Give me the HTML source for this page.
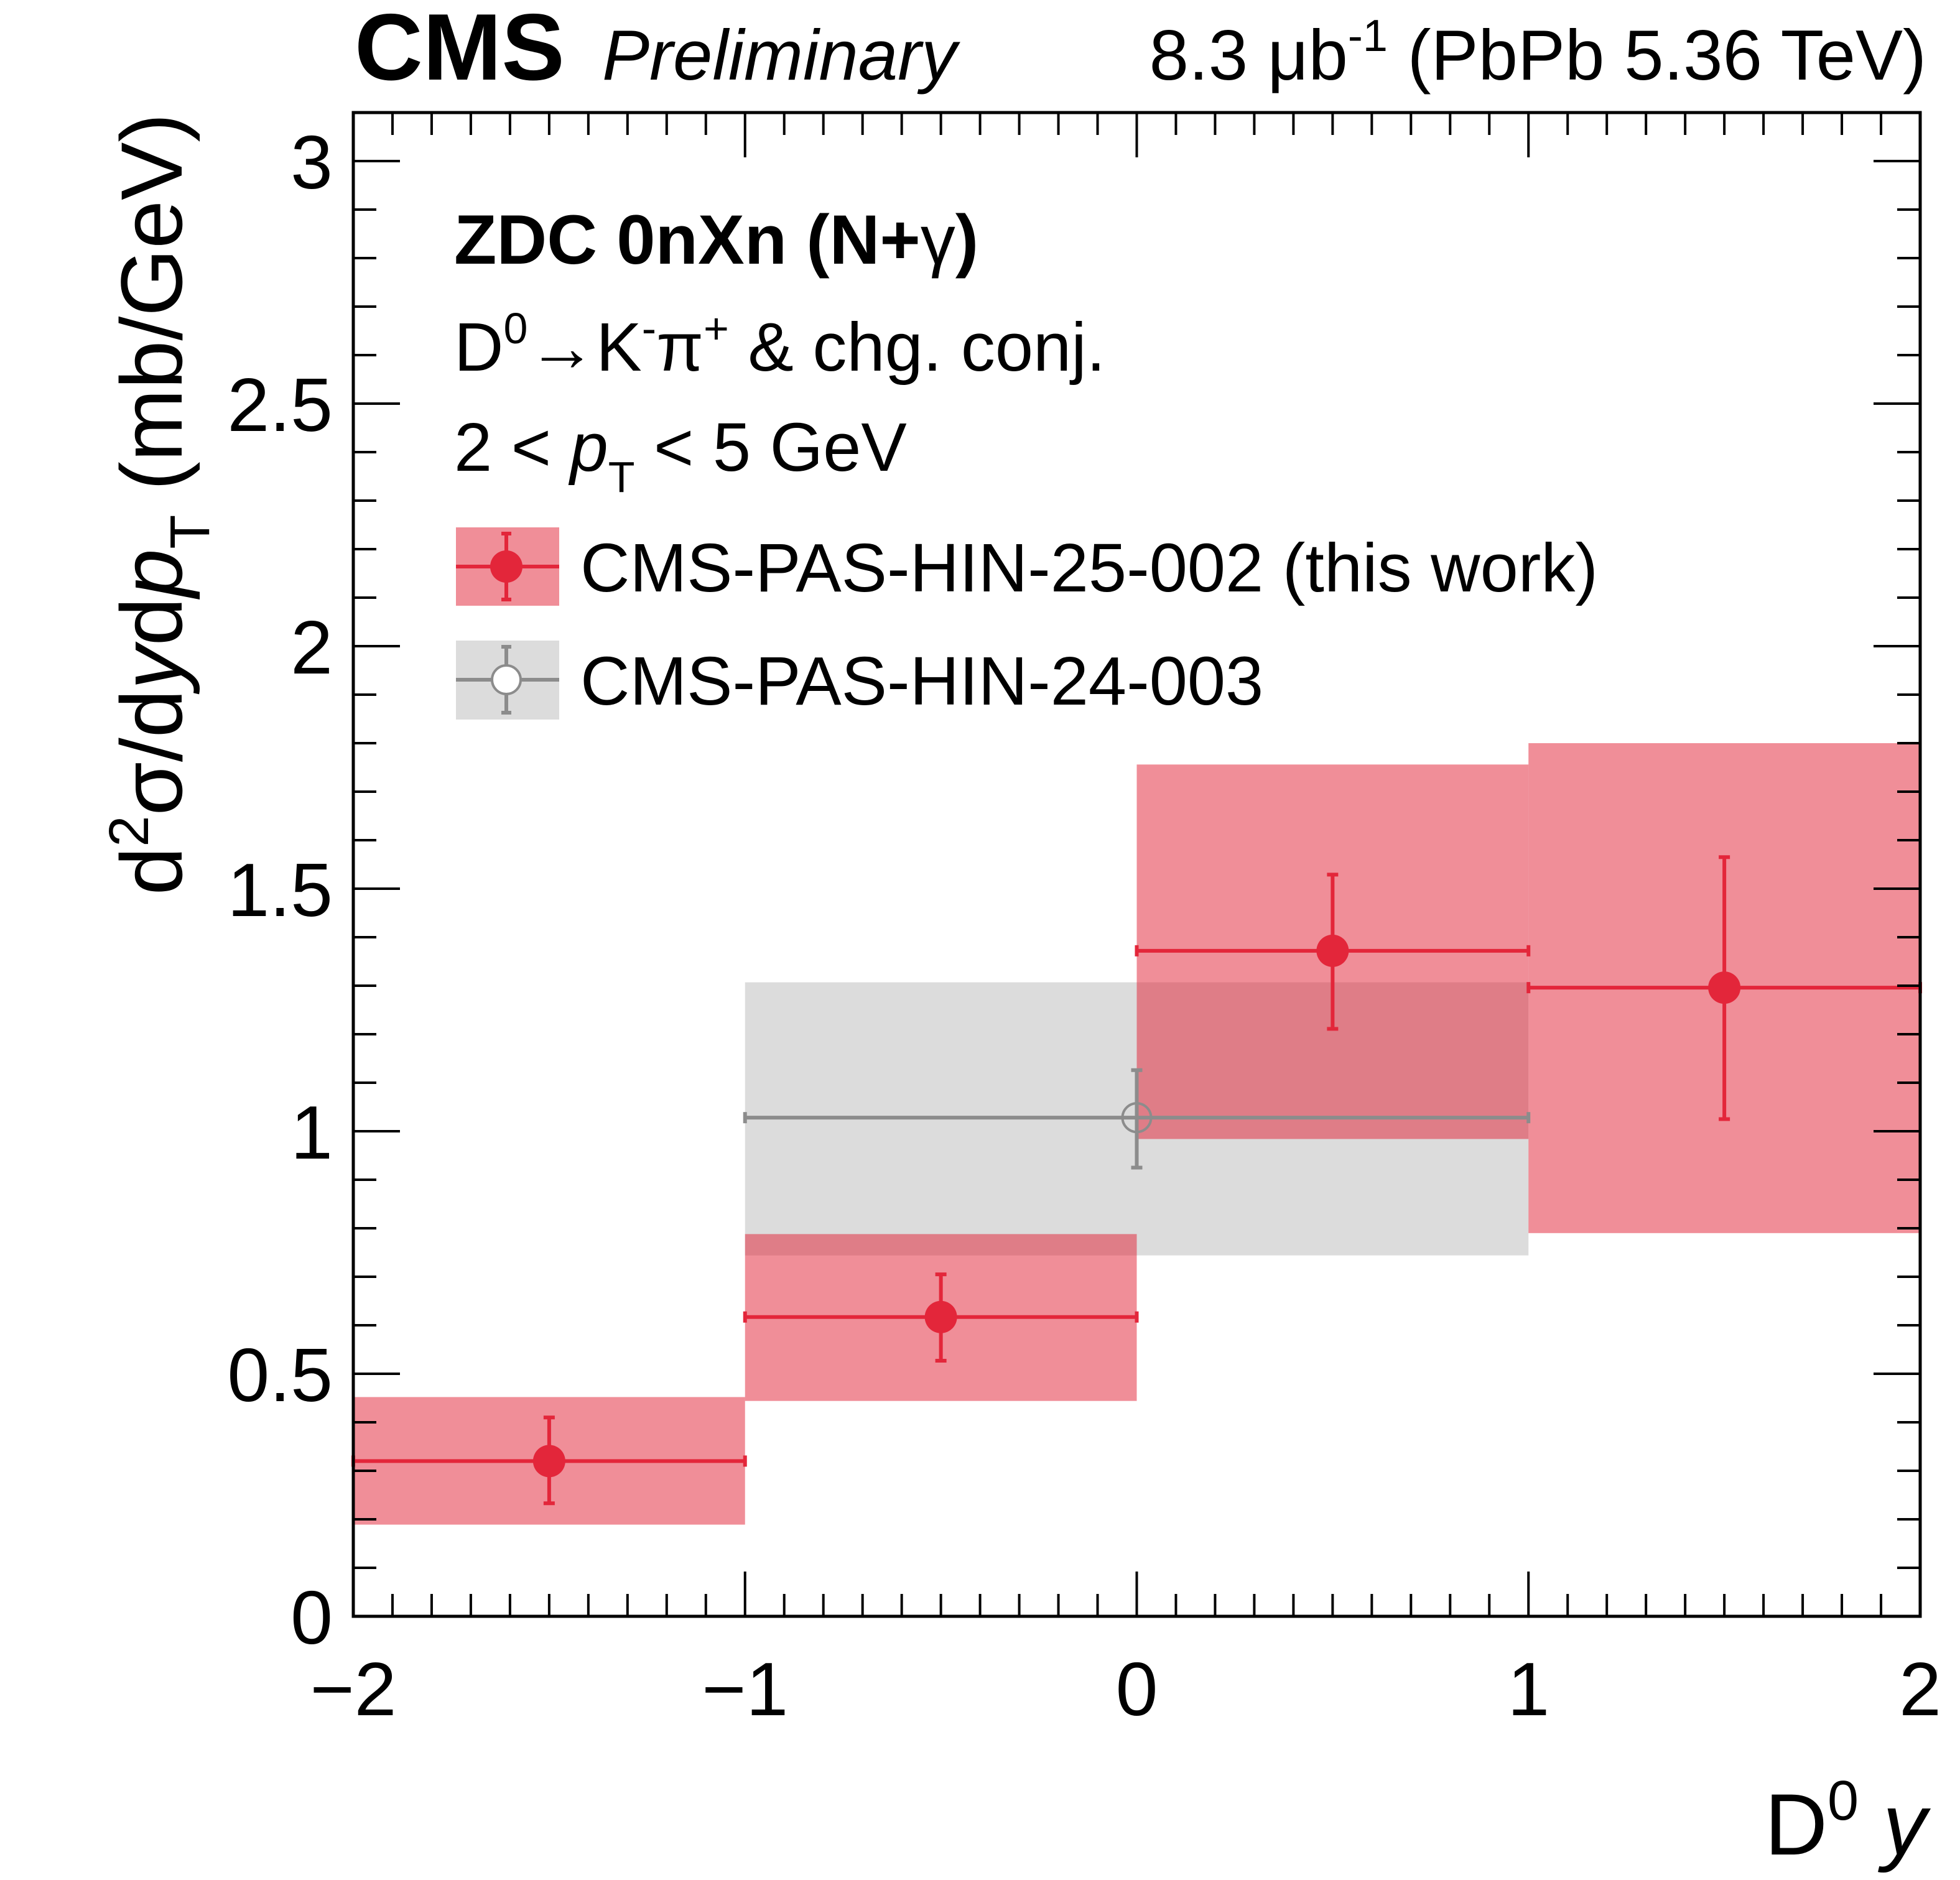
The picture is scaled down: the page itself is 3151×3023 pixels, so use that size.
<!DOCTYPE html>
<html><head><meta charset="utf-8"><style>
html,body{margin:0;padding:0;background:#fff}
svg{display:block;font-family:"Liberation Sans",sans-serif}
</style></head><body>
<svg id="c" width="3151" height="3023" viewBox="0 0 3151 3023" xmlns="http://www.w3.org/2000/svg">
<g id="boxes"></g>
<g id="marks"></g>
<g id="axes"></g>
<text x="570" y="128" font-size="152" font-weight="bold">CMS</text>
<text x="968" y="128" font-size="114" font-style="italic">Preliminary</text>
<text x="3097" y="128" font-size="114" text-anchor="end">8.3 μb<tspan dy="-46" font-size="72">-1</tspan><tspan dy="46"> (PbPb 5.36 TeV)</tspan></text>
<text x="730" y="424" font-size="112" font-weight="bold">ZDC 0nXn (N+<tspan font-weight="normal">γ</tspan>)</text>
<text x="730" y="596" font-size="110">D<tspan dy="-44" font-size="70">0</tspan><tspan dy="44">→K</tspan><tspan dy="-44" font-size="70">-</tspan><tspan dy="44">π</tspan><tspan dy="-44" font-size="70">+</tspan><tspan dy="44"> &amp; chg. conj.</tspan></text>
<text x="730" y="757" font-size="110">2 &lt; <tspan font-style="italic">p</tspan><tspan dy="34" font-size="70">T</tspan><tspan dy="-34"> &lt; 5 GeV</tspan></text>
<g>
<g>
<rect x="733" y="848" width="166" height="126" fill="rgba(225,30,50,0.5)"/>
<line x1="733" y1="911" x2="899" y2="911" stroke="#e3263a" stroke-width="6"/>
<line x1="814" y1="858" x2="814" y2="964" stroke="#e3263a" stroke-width="6"/>
<line x1="806" y1="858" x2="822" y2="858" stroke="#e3263a" stroke-width="6"/>
<line x1="806" y1="964" x2="822" y2="964" stroke="#e3263a" stroke-width="6"/>
<circle cx="814" cy="911" r="26" fill="#e3263a"/>
<text x="933" y="951" font-size="110">CMS-PAS-HIN-25-002 (this work)</text>
</g>
<g>
<rect x="733" y="1030" width="166" height="127" fill="#dcdcdc"/>
<line x1="733" y1="1093" x2="899" y2="1093" stroke="#8c8c8c" stroke-width="6"/>
<line x1="814" y1="1040" x2="814" y2="1146" stroke="#8c8c8c" stroke-width="6"/>
<line x1="806" y1="1040" x2="822" y2="1040" stroke="#8c8c8c" stroke-width="6"/>
<line x1="806" y1="1146" x2="822" y2="1146" stroke="#8c8c8c" stroke-width="6"/>
<circle cx="814" cy="1093" r="23" fill="#fff" stroke="#8c8c8c" stroke-width="4"/>
<text x="933" y="1133" font-size="110">CMS-PAS-HIN-24-003</text>
</g>
</g>
<text transform="translate(292,182) rotate(-90)" font-size="140" text-anchor="end">d<tspan dy="-54" font-size="90">2</tspan><tspan dy="54">σ/d</tspan><tspan font-style="italic">y</tspan><tspan>d</tspan><tspan font-style="italic">p</tspan><tspan dy="44" font-size="90">T</tspan><tspan dy="-44"> (mb/GeV)</tspan></text>
<text x="3097" y="2982" font-size="140" text-anchor="end">D<tspan dy="-56" font-size="90">0</tspan><tspan dy="56">  </tspan><tspan font-style="italic">y</tspan></text>
</svg>
<script>
const binLo=[-2,-1,0,1];
const binHi=[-1,0,1,2];
const redVal=[0.32,0.617,1.372,1.296];
const redStatHi=[0.41,0.705,1.529,1.565];
const redStatLo=[0.233,0.527,1.211,1.025];
const redSysHi=[0.452,0.788,1.756,1.80];
const redSysLo=[0.189,0.444,0.984,0.79];
const grayLo=[-1];
const grayHi=[1];
const grayVal=[1.028];
const grayStatHi=[1.126];
const grayStatLo=[0.925];
const graySysHi=[1.307];
const graySysLo=[0.744];
const xTicks=[-2,-1,0,1,2];
const xTickLabels=["\u22122","\u22121","0","1","2"];
const yTicks=[0,0.5,1,1.5,2,2.5,3];
const yTickLabels=["0","0.5","1","1.5","2","2.5","3"];

const L=568,R=3087,T=181,B=2599,xmin=-2,xmax=2,ymin=0,ymax=3.1;
const X=v=>L+(v-xmin)/(xmax-xmin)*(R-L);
const Y=v=>B-(v-ymin)/(ymax-ymin)*(B-T);
const NS="http://www.w3.org/2000/svg";
function mk(tag,attrs,parent){const e=document.createElementNS(NS,tag);for(const k in attrs)e.setAttribute(k,attrs[k]);parent.appendChild(e);return e;}
const boxes=document.getElementById('boxes'),marks=document.getElementById('marks'),axes=document.getElementById('axes');

for(let i=0;i<grayVal.length;i++){
  const r=mk('rect',{x:X(grayLo[i]),y:Y(graySysHi[i]),width:X(grayHi[i])-X(grayLo[i]),height:Y(graySysLo[i])-Y(graySysHi[i]),fill:'#dcdcdc'},boxes);
  
  
}
for(let i=0;i<redVal.length;i++){
  const r=mk('rect',{x:X(binLo[i]),y:Y(redSysHi[i]),width:X(binHi[i])-X(binLo[i]),height:Y(redSysLo[i])-Y(redSysHi[i]),fill:'rgba(225,30,50,0.5)'},boxes);
  
  
}
function point(lo,hi,v,sh,sl,col,open){
  const g=mk('g',{},marks);
  const xc=X((lo+hi)/2),yc=Y(v);
  mk('line',{x1:X(lo),y1:yc,x2:X(hi),y2:yc,stroke:col,'stroke-width':6},g);
  mk('line',{x1:X(lo),y1:yc-9,x2:X(lo),y2:yc+9,stroke:col,'stroke-width':6},g);
  mk('line',{x1:X(hi),y1:yc-9,x2:X(hi),y2:yc+9,stroke:col,'stroke-width':6},g);
  mk('line',{x1:xc,y1:Y(sh),x2:xc,y2:Y(sl),stroke:col,'stroke-width':6},g);
  mk('line',{x1:xc-9,y1:Y(sh),x2:xc+9,y2:Y(sh),stroke:col,'stroke-width':6},g);
  mk('line',{x1:xc-9,y1:Y(sl),x2:xc+9,y2:Y(sl),stroke:col,'stroke-width':6},g);
  if(open) mk('circle',{cx:xc,cy:yc,r:23,fill:'none',stroke:col,'stroke-width':4},g);
  else mk('circle',{cx:xc,cy:yc,r:26,fill:col},g);
  return g;
}
for(let i=0;i<grayVal.length;i++){
  const g=point(grayLo[i],grayHi[i],grayVal[i],grayStatHi[i],grayStatLo[i],'#8c8c8c',true);
  
  
}
for(let i=0;i<redVal.length;i++){
  const g=point(binLo[i],binHi[i],redVal[i],redStatHi[i],redStatLo[i],'#e3263a',false);
  
  
}
for(let v=xmin;v<=xmax+1e-9;v+=0.1){
  const major=Math.abs(v-Math.round(v))<1e-6, len=major?72:36, x=X(v);
  mk('line',{x1:x,y1:B,x2:x,y2:B-len,stroke:'#000','stroke-width':4},axes);
  mk('line',{x1:x,y1:T,x2:x,y2:T+len,stroke:'#000','stroke-width':4},axes);
}
for(let k=0;k<=31;k++){
  const v=k*0.1, major=k%5===0, len=major?75:37, y=Y(v);
  mk('line',{x1:L,y1:y,x2:L+len,y2:y,stroke:'#000','stroke-width':4},axes);
  mk('line',{x1:R,y1:y,x2:R-len,y2:y,stroke:'#000','stroke-width':4},axes);
}
mk('rect',{x:L,y:T,width:R-L,height:B-T,fill:'none',stroke:'#000','stroke-width':5},axes);
for(let i=0;i<xTicks.length;i++){
  const t=mk('text',{x:X(xTicks[i]),y:2758,'font-size':122,'text-anchor':'middle'},axes);
  t.textContent=xTickLabels[i];
  
  
}
for(let i=0;i<yTicks.length;i++){
  const t=mk('text',{x:535,y:Y(yTicks[i])+44,'font-size':122,'text-anchor':'end'},axes);
  t.textContent=yTickLabels[i];
  
  
}
</script>
</body></html>
